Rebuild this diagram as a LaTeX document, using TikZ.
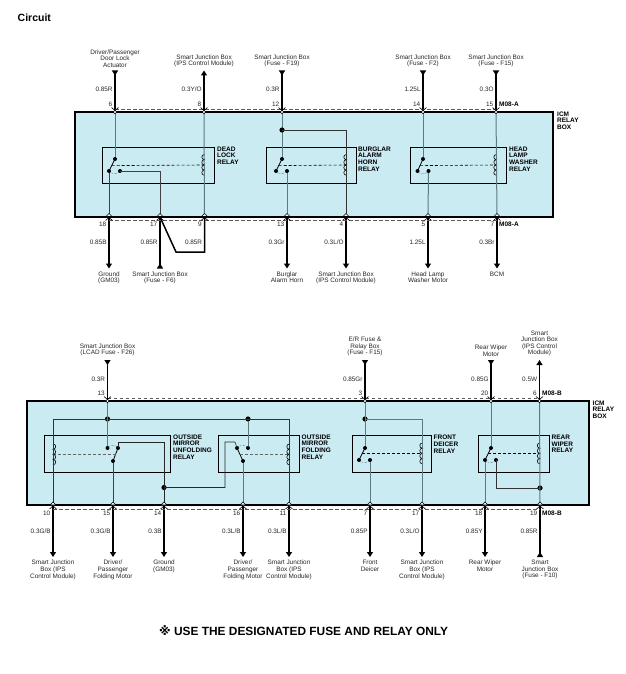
\documentclass[tikz,border=0pt]{standalone}
\usepackage{fontspec}
\setmainfont{Liberation Sans}
\newfontfamily\symfont{DejaVu Sans}
\usetikzlibrary{arrows.meta,calc}
\definecolor{boxfill}{HTML}{CBEBF3}
\definecolor{inwirecol}{HTML}{5E7880}
\tikzset{
  namelb/.style={font=\fontsize{6.4}{6.6}\selectfont,align=center,inner sep=0pt,text=black!85},
  wirelb/.style={font=\fontsize{6.4}{6.6}\selectfont,anchor=east,inner sep=0pt,text=black!85},
  boldlb/.style={font=\bfseries\fontsize{6.5}{6.65}\selectfont,align=left,anchor=north west,inner sep=0pt},
  mainbox/.style={draw=black,fill=boxfill,line width=1.2pt},
  relaybox/.style={draw=black,line width=1.2pt},
  outwire/.style={line width=1.5pt,draw=black},
  inwire/.style={line width=1pt,draw=inwirecol},
  conndash/.style={draw=black!65,line width=0.7pt,dash pattern=on 3.5pt off 2.5pt},
  linkdash/.style={draw=black,line width=0.6pt,dash pattern=on 3pt off 2pt},
  blade/.style={draw=black,line width=0.8pt},
  jdot/.style={fill=black,circle,inner sep=0pt,minimum size=4pt},
  bigdot/.style={fill=black,circle,inner sep=0pt,minimum size=5.2pt},
  inarrow/.style={-{Triangle[reversed,length=5pt,width=6pt]}},
  outarrow/.style={-{Triangle[length=5pt,width=6pt]}},
}
% coil with four bumps, #1=start coordinate, #2=bump side
\newcommand{\relaycoil}[2]{
  \draw[draw=black,line width=0.6pt,fill=none] (#1) ..controls +(#2,0) and +(#2,0) .. ++(0,5.2) ..controls +(#2,0) and +(#2,0) .. ++(0,5.2) ..controls +(#2,0) and +(#2,0) .. ++(0,5.2) ..controls +(#2,0) and +(#2,0) .. ++(0,5.2);
}
% pin marks
\newcommand{\pintop}[1]{
  \draw[black,line width=0.6pt] ([shift={(-3.5,-3.5)}]#1) -- ([shift={(0,-0.5)}]#1) -- ([shift={(3.5,-3.5)}]#1);
  \draw[black,line width=0.6pt,fill=white] ([shift={(0,1)}]#1) circle (1.7pt);
}
\newcommand{\pinbot}[1]{
  \draw[black,line width=0.6pt] ([shift={(-3.5,3.5)}]#1) -- ([shift={(0,0.5)}]#1) -- ([shift={(3.5,3.5)}]#1);
  \draw[black,line width=0.6pt,fill=white] ([shift={(-3,-0.5)}]#1) -- ([shift={(3,-0.5)}]#1) -- ([shift={(0,-3.5)}]#1) -- cycle;
}
\begin{document}
\begin{tikzpicture}[x=1pt,y=-1pt]
\useasboundingbox (0,0) rectangle (625,674);
\node[font=\bfseries\fontsize{10.5}{12}\selectfont,anchor=west,inner sep=0pt] (title) at (17.5,18) {Circuit};
\node[font=\bfseries\fontsize{11.9}{13}\selectfont,anchor=west,inner sep=0pt] (note) at (159,630.5) {{\symfont ※} USE THE DESIGNATED FUSE AND RELAY ONLY};
%%% upper box
\draw[mainbox] (75,112) rectangle (553,217);
\foreach \rx/\rw/\rn in {102/112/a,266/90/b,410/96/c}{\node[relaybox,anchor=north west,inner sep=0pt,minimum width=\rw pt,minimum height=36pt] (rel\rn) at (\rx,147) {};}
\foreach \px/\pn/\wl/\tp/\nm in {115/6/{0.85R}/inarrow/{Driver/Passenger\\Door Lock\\Actuator},204/8/{0.3Y/O}/outarrow/{Smart Junction Box\\(IPS Control Module)},282/12/{0.3R}/inarrow/{Smart Junction Box\\(Fuse - F19)},423/14/{1.25L}/inarrow/{Smart Junction Box\\(Fuse - F2)},496/15/{0.3O}/inarrow/{Smart Junction Box\\(Fuse - F15)}}{
  \coordinate (at\pn) at (\px,111);
  \coordinate (ate\pn) at (\px,70.5);
  \draw[outwire,\tp] (at\pn) -- (ate\pn);
  \node[namelb,anchor=south] (atn\pn) at (\px,67.5) {\nm};
  \node[wirelb] (atw\pn) at (\px-2.2,89) {\wl};
  \node[wirelb] (atp\pn) at (\px-2.5,104) {\pn};
}
\foreach \px/\pn/\wl in {109/18/{0.85B},160/17/{0.85R},204.5/9/{0.85R},287/13/{0.3Gr},346/4/{0.3L/O},428/5/{1.25L},497/7/{0.3Br}}{
  \coordinate (ab\pn) at (\px,217);
  \node[wirelb] (abw\pn) at (\px-2.2,242) {\wl};
  \node[wirelb] (abp\pn) at (\px-2.5,224.5) {\pn};
}
\foreach \pn/\tp/\nm in {18/outarrow/{Ground\\(GM03)},17/inarrow/{Smart Junction Box\\(Fuse - F6)},13/outarrow/{Burglar\\Alarm Horn},4/outarrow/{Smart Junction Box\\(IPS Control Module)},5/outarrow/{Head Lamp\\Washer Motor},7/outarrow/{BCM}}{
  \coordinate (abe\pn) at ($(ab\pn)+(0,51.5)$);
  \draw[outwire,\tp] (ab\pn) -- (abe\pn);
  \node[namelb,anchor=north] (abn\pn) at ($(ab\pn)+(0,54.5)$) {\nm};
}
% jumper 17 to 9
\coordinate (jmpa) at (176,252);
\coordinate (jmpb) at (204.5,252);
\draw[outwire,line join=miter] (ab17) -- (jmpa) -- (jmpb) -- (ab9);
%%% upper relay contacts
\foreach \cn/\ca/\cb/\cc/\cp in {a/115/109/120/204,b/282/276/287/346,c/423/417.5/428.5/496}{
  \node[jdot] (ct\cn) at (\ca,159) {};
  \node[jdot] (cp\cn) at (\cb,171) {};
  \node[jdot] (cm\cn) at (\cc,171) {};
  \draw[blade] (ct\cn.center) -- (cp\cn.center);
  \draw[black,line width=0.4pt,densely dotted] (cp\cn.center) ..controls +(1.5,3.5) and +(-1.5,3.5) .. (cm\cn.center);
  \coordinate (cd\cn) at ($(ct\cn)!0.55!(cp\cn)$);
  \draw[linkdash] (cd\cn) -- (\cp,165);
  \relaycoil{\cp+0.5,154.5}{-3.6}
}
\draw[inwire] (at6) -- (cta);
\draw[inwire,line width=0.6pt,draw=black!75] (cpa) -- (ab18);
\draw[inwire,line width=0.6pt,draw=black!75] (cma.center) -| (ab17);
\draw[inwire] (at8) -- (ab9);
\draw[inwire] (at12) -- (ctb);
\draw[inwire] (cmb) -- (ab13);
\node[bigdot] (ja) at (282,130) {};
\draw[inwire,line width=0.7pt,draw=black!80] (ja.center) -| (ab4);
\draw[inwire,line width=0.6pt] (at14) -- (ctc);
\draw[inwire] (cmc) -- (ab5);
\draw[inwire] (at15) -- (ab7);
\draw[conndash] ([yshift=2pt]at6) -- ([yshift=2pt]at15);
\draw[conndash] ([yshift=-3pt]ab18) -- ([yshift=-3pt]ab7);
\foreach \pn in {6,8,12,14,15}{\pintop{at\pn}}
\foreach \pn in {18,17,9,13,4,5,7}{\pinbot{ab\pn}}
\node[boldlb] (lbla) at (217,146.5) {DEAD\\LOCK\\RELAY};
\node[boldlb] (lblb) at (358,146.5) {BURGLAR\\ALARM\\HORN\\RELAY};
\node[boldlb] (lblc) at (509,146.5) {HEAD\\LAMP\\WASHER\\RELAY};
\node[boldlb] (icma) at (557,111.5) {ICM\\RELAY\\BOX};
\node[boldlb,anchor=west] (mtopa) at (499,104) {M08-A};
\node[boldlb,anchor=west] (mbota) at (499,224) {M08-A};
%%% lower box
\draw[mainbox] (27,401) rectangle (589,505);
\foreach \rx/\rw/\rn in {44/126/d,218/81/e,352/79/f,478/71/g}{\node[relaybox,anchor=north west,inner sep=0pt,minimum width=\rw pt,minimum height=36.5pt] (rel\rn) at (\rx,435) {};}
\foreach \px/\pn/\wl/\tp/\nm in {107.5/13/{0.3R}/inarrow/{Smart Junction Box\\(LCAD Fuse - F26)},365/3/{0.85Gr}/inarrow/{E/R Fuse \&\\Relay Box\\(Fuse - F15)},491/20/{0.85G}/inarrow/{Rear Wiper\\Motor},539.5/6/{0.5W}/outarrow/{Smart\\Junction Box\\(IPS Control\\Module)}}{
  \coordinate (bt\pn) at (\px,400);
  \coordinate (bte\pn) at (\px,360);
  \draw[outwire,\tp] (bt\pn) -- (bte\pn);
  \node[namelb,anchor=south] (btn\pn) at (\px,356.5) {\nm};
  \node[wirelb] (btw\pn) at (\px-2.2,379) {\wl};
  \node[wirelb] (btp\pn) at (\px-2.5,393) {\pn};
}
\foreach \px/\pn/\wl/\tp/\nm in {53/10/{0.3G/B}/outarrow/{Smart Junction\\Box (IPS\\Control Module)},113/15/{0.3G/B}/outarrow/{Driver/\\Passenger\\Folding Motor},164/14/{0.3B}/outarrow/{Ground\\(GM03)},243/16/{0.3L/B}/outarrow/{Driver/\\Passenger\\Folding Motor},289/11/{0.3L/B}/outarrow/{Smart Junction\\Box (IPS\\Control Module)},370/7/{0.85P}/outarrow/{Front\\Deicer},422/17/{0.3L/O}/outarrow/{Smart Junction\\Box (IPS\\Control Module)},485/18/{0.85Y}/outarrow/{Rear Wiper\\Motor},540/19/{0.85R}/inarrow/{Smart\\Junction Box\\(Fuse - F10)}}{
  \coordinate (bb\pn) at (\px,505.5);
  \coordinate (bbe\pn) at (\px,557);
  \draw[outwire,\tp] (bb\pn) -- (bbe\pn);
  \node[namelb,anchor=north] (bbn\pn) at (\px,560) {\nm};
  \node[wirelb] (bbw\pn) at (\px-2.2,531) {\wl};
  \node[wirelb] (bbp\pn) at (\px-2.5,513.5) {\pn};
}
%%% lower relay contacts
\node[jdot] (ctd) at (107.5,448) {};
\node[jdot] (cpd) at (118,448) {};
\node[jdot] (cmd) at (113,461) {};
\node[jdot] (cte) at (248,448) {};
\node[jdot] (cpe) at (237,448) {};
\node[jdot] (cme) at (243,461) {};
\node[jdot] (ctf) at (365,448) {};
\node[jdot] (cpf) at (359,460) {};
\node[jdot] (cmf) at (370,460) {};
\node[jdot] (ctg) at (491,448) {};
\node[jdot] (cpg) at (485,460) {};
\node[jdot] (cmg) at (496,460) {};
\draw[blade] (cpd.center) -- (cmd.center);
\draw[blade] (cpe.center) -- (cme.center);
\draw[blade] (cpf.center) -- (ctf.center);
\draw[blade] (cpg.center) -- (ctg.center);
\draw[black,line width=0.4pt,densely dotted] (ctd.center) ..controls +(1.5,-3.5) and +(-1.5,-3.5) .. (cpd.center);
\draw[black,line width=0.4pt,densely dotted] (cpe.center) ..controls +(1.5,-3.5) and +(-1.5,-3.5) .. (cte.center);
\draw[black,line width=0.4pt,densely dotted] (cpf.center) ..controls +(1.5,3.5) and +(-1.5,3.5) .. (cmf.center);
\draw[black,line width=0.4pt,densely dotted] (cpg.center) ..controls +(1.5,3.5) and +(-1.5,3.5) .. (cmg.center);
\draw[linkdash,draw=black!60] (115.5,454) -- (54,454);
\draw[linkdash,draw=black!60] (240,454) -- (288,454);
\draw[linkdash] (362,453.5) -- (422,453.5);
\draw[linkdash] (488,453.5) -- (539,453.5);
\relaycoil{53,444}{3.6}
\relaycoil{289.5,444}{-3.6}
\relaycoil{422.5,443}{-3.6}
\relaycoil{540,443}{-3.6}
% rail and junctions
\node[bigdot] (jb) at (107.5,419) {};
\node[bigdot] (jc) at (248,419) {};
\node[bigdot] (jd) at (164,487.5) {};
\node[bigdot] (je) at (365,419) {};
\node[bigdot] (jf) at (540,488) {};
\coordinate (raill) at (53,419);
\coordinate (railr) at (289,419);
\draw[inwire,line width=0.6pt,draw=black!80] (bb10) -- (raill) -- (railr) -- (bb11);
\draw[inwire] (bt13) -- (ctd);
\draw[inwire,line width=0.7pt,draw=black!75] (cmd) -- (bb15);
\draw[inwire,line width=0.6pt,draw=black!85] (cpd.center) -- (118,442) -- (164,442) -- (bb14);
\draw[inwire,line width=0.6pt,draw=black!85] (cpe.center) -- (235,442) -- (225,442) -- (225,487.5) -- (jd.center);
\draw[inwire] (jc) -- (cte);
\draw[inwire] (cme) -- (bb16);
\draw[inwire] (bt3) -- (ctf);
\draw[inwire] (cmf) -- (bb7);
\draw[inwire] (je.center) -- (422,419) -- (bb17);
\draw[inwire] (bt20) -- (ctg);
\draw[inwire] (cpg) -- (bb18);
\draw[inwire,line width=0.7pt,draw=black!80] (cmg.center) |- (jf.center);
\draw[inwire] (bt6) -- (bb19);
\draw[conndash] ([yshift=2pt]bt13) -- ([yshift=2pt]bt6);
\draw[conndash] ([yshift=-3.5pt]bb10) -- ([yshift=-3.5pt]bb19);
\foreach \pn in {13,3,20,6}{\pintop{bt\pn}}
\foreach \pn in {10,15,14,16,11,7,17,18,19}{\pinbot{bb\pn}}
\node[boldlb] (lbld) at (173,434.5) {OUTSIDE\\MIRROR\\UNFOLDING\\RELAY};
\node[boldlb] (lble) at (301.5,434.5) {OUTSIDE\\MIRROR\\FOLDING\\RELAY};
\node[boldlb] (lblf) at (433.5,435) {FRONT\\DEICER\\RELAY};
\node[boldlb] (lblg) at (551.5,435) {REAR\\WIPER\\RELAY};
\node[boldlb] (icmb) at (592.5,400.5) {ICM\\RELAY\\BOX};
\node[boldlb,anchor=west] (mtopb) at (542,393) {M08-B};
\node[boldlb,anchor=west] (mbotb) at (542,513) {M08-B};
\end{tikzpicture}
\end{document}
